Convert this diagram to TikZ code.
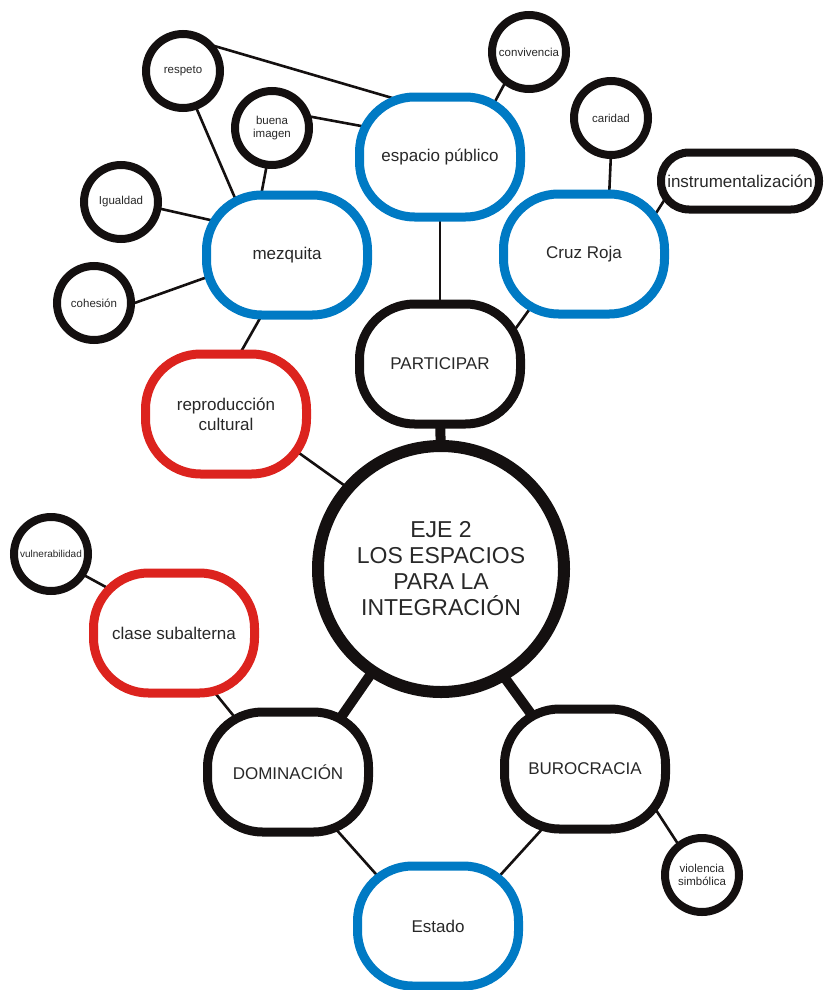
\documentclass[tikz,border=0pt]{standalone}
\usepackage{fontspec}
\setmainfont{Liberation Sans}
\usetikzlibrary{backgrounds}
\definecolor{nblue}{RGB}{0,122,196}
\definecolor{nred}{RGB}{220,35,30}
\definecolor{txt}{RGB}{40,40,40}
\definecolor{ink}{RGB}{20,16,16}
\begin{document}
\begin{tikzpicture}[x=1pt,y=-1pt,
  big/.style={rectangle, rounded corners=55pt, minimum width=161pt, minimum height=120pt,
    line width=9pt, fill=white, text=txt, font=\fontsize{17}{20}\selectfont, align=center, inner sep=0pt},
  bigblue/.style={big, draw=nblue},
  bigred/.style={big, draw=nred},
  bigblack/.style={big, draw=ink},
  small/.style={circle, draw=ink, line width=8pt, minimum size=74pt, fill=white, inner sep=0pt,
    font=\fontsize{11.5}{13.5}\selectfont, align=center, text=txt},
  hub/.style={circle, draw=ink, line width=12pt, minimum size=246pt, fill=white, inner sep=0pt,
    font=\fontsize{23}{26}\selectfont, align=center, text=txt},
  link/.style={line width=2.6pt, draw=ink},
  trunk/.style={line width=10pt, draw=ink}]
\useasboundingbox (0,0) rectangle (824,990);

% big nodes
\node[bigblue] (mez) at (287,255) {mezquita};
\node[bigblue] (esp) at (440,157) {espacio público};
\node[bigblue] (cruz) at (584,254) {Cruz Roja};
\node[bigblack] (part) at (440,364) {PARTICIPAR};
\node[bigred] (repro) at (226,414) {reproducción\\cultural};
\node[hub] (eje) at (441,569) {EJE 2\\LOS ESPACIOS\\PARA LA\\INTEGRACIÓN};
\node[bigred] (clase) at (174,633) {clase subalterna};
\node[bigblack] (dom) at (288,772) {DOMINACIÓN};
\node[bigblack] (buro) at (585,769) {BUROCRACIA};
\node[bigblue] (estado) at (438,926) {Estado};

% small nodes
\node[small] (respeto) at (183,71) {respeto};
\node[small] (buena) at (272,128) {buena\\imagen};
\node[small] (igual) at (121,202) {Igualdad};
\node[small] (cohes) at (94,303) {cohesión};
\node[small] (conv) at (529,52) {convivencia};
\node[small] (carid) at (611,118) {caridad};
\node[small, font=\fontsize{10}{12}\selectfont] (vuln) at (51,554) {vulnerabilidad};
\node[small] (viol) at (702,875) {violencia\\simbólica};
\node[rectangle, rounded corners=28pt, draw=ink, line width=8pt, minimum width=158pt, minimum height=57pt,
  fill=white, inner sep=0pt, font=\fontsize{17}{20}\selectfont, text=txt] (instr) at (740,181) {instrumentalización};

\begin{scope}[on background layer]
\draw[link] ([shift={(28,-26)}]respeto.center) -- ([shift={(-34,-55)}]esp.center);
\draw[link] ([shift={(12,34)}]respeto.center) -- ([shift={(-49,-50)}]mez.center);
\draw[link] ([shift={(35,-12)}]buena.center) -- ([shift={(-68,-29)}]esp.center);
\draw[link] ([shift={(-5,36)}]buena.center) -- ([shift={(-27,-54)}]mez.center);
\draw[link] ([shift={(36,6)}]igual.center) -- ([shift={(-68,-33)}]mez.center);
\draw[link] ([shift={(35,2)}]cohes.center) -- ([shift={(-74,20)}]mez.center);
\draw[link] ([shift={(-24,58)}]mez.center) -- ([shift={(12,-57)}]repro.center);
\draw[link] ([shift={(-23,29)}]conv.center) -- ([shift={(51,-48)}]esp.center);
\draw[link] ([shift={(0,58)}]esp.center) -- ([shift={(0,-58)}]part.center);
\draw[link] ([shift={(0,35)}]carid.center) -- ([shift={(25,-56)}]cruz.center);
\draw[link] ([shift={(-75,18)}]instr.center) -- ([shift={(67,-33)}]cruz.center);
\draw[link] ([shift={(-50,49)}]cruz.center) -- ([shift={(71,-29)}]part.center);
\draw[trunk] ([shift={(0,55)}]part.center) -- ([shift={(0,-115)}]eje.center);
\draw[link] ([shift={(66,34)}]repro.center) -- ([shift={(-93,-81)}]eje.center);
\draw[link] ([shift={(31,20)}]vuln.center) -- ([shift={(-59,-41)}]clase.center);
\draw[link] ([shift={(37,55)}]clase.center) -- ([shift={(-51,-52)}]dom.center);
\draw[trunk] ([shift={(-68,102)}]eje.center) -- ([shift={(49,-49)}]dom.center);
\draw[trunk] ([shift={(61,105)}]eje.center) -- ([shift={(-51,-51)}]buro.center);
\draw[link] ([shift={(46,55)}]dom.center) -- ([shift={(-55,-44)}]estado.center);
\draw[link] ([shift={(-41,58)}]buro.center) -- ([shift={(56,-44)}]estado.center);
\draw[link] ([shift={(69,38)}]buro.center) -- ([shift={(-22,-28)}]viol.center);
\end{scope}
\end{tikzpicture}
\end{document}
